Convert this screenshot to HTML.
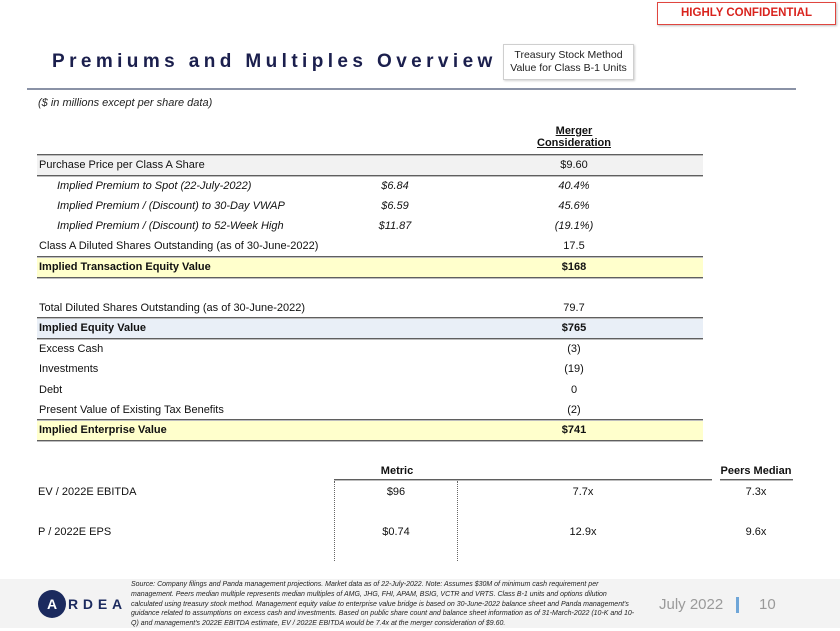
<!DOCTYPE html>
<html>
<head>
<meta charset="utf-8">
<style>
*{margin:0;padding:0;box-sizing:border-box;}
html,body{width:840px;height:631px;background:#fff;overflow:hidden;}
body{position:relative;font-family:"Liberation Sans",Arial,sans-serif;color:#111;}
.a{position:absolute;white-space:nowrap;}
.t{font-size:11px;line-height:14px;height:14px;}
.b{font-weight:bold;}
.i{font-style:italic;}
.c{text-align:center;}
.ln{position:absolute;height:2px;background:#5f5f5f;border-bottom:1px solid #bdbdbd;}
.bg{position:absolute;}
</style>
</head>
<body>

<!-- Highly confidential -->
<div class="a" style="left:657px;top:2px;width:179px;height:23px;border:1.5px solid #e0463f;box-shadow:1px 1px 2px rgba(0,0,0,0.25);"></div>
<div class="a b c" style="left:657px;top:6px;width:179px;font-size:11.5px;line-height:14px;color:#d9231d;">HIGHLY CONFIDENTIAL</div>

<!-- Title -->
<div class="a b" style="left:52px;top:51px;font-size:19px;line-height:22px;letter-spacing:4.4px;color:#1b1f4d;">Premiums and Multiples Overview</div>

<!-- Treasury box -->
<div class="a" style="left:503px;top:44px;width:131px;height:36px;border:1px solid #cfcfcf;box-shadow:1px 1px 2px rgba(0,0,0,0.18);background:#fff;"></div>
<div class="a c" style="left:503px;top:49px;width:131px;font-size:10.5px;line-height:13px;color:#222;">Treasury Stock Method<br>Value for Class B-1 Units</div>

<!-- Rule -->
<div class="a" style="left:27px;top:88px;width:769px;height:2px;background:#8a92a6;"></div>

<div class="a t i" style="left:38px;top:96px;color:#222;">($ in millions except per share data)</div>

<!-- Table header -->
<div class="a t b c" style="left:524px;top:124px;width:100px;text-decoration:underline;">Merger</div>
<div class="a t b c" style="left:514px;top:136px;width:120px;text-decoration:underline;">Consideration</div>

<!-- Backgrounds -->
<div class="bg" style="left:37px;top:156px;width:666px;height:20px;background:#f2f2f2;"></div>
<div class="bg" style="left:37px;top:258px;width:666px;height:20px;background:#ffffcc;"></div>
<div class="bg" style="left:37px;top:319px;width:666px;height:20px;background:#e9eff7;"></div>
<div class="bg" style="left:37px;top:421px;width:666px;height:20px;background:#ffffcc;"></div>

<!-- Lines -->
<div class="ln" style="left:37px;top:154px;width:666px;"></div>
<div class="ln" style="left:37px;top:175px;width:666px;"></div>
<div class="ln" style="left:37px;top:256px;width:666px;"></div>
<div class="ln" style="left:37px;top:277px;width:666px;"></div>
<div class="ln" style="left:37px;top:317px;width:666px;"></div>
<div class="ln" style="left:37px;top:338px;width:666px;"></div>
<div class="ln" style="left:37px;top:419px;width:666px;"></div>
<div class="ln" style="left:37px;top:440px;width:666px;"></div>

<!-- Rows -->
<div class="a t" style="left:39px;top:158px;">Purchase Price per Class A Share</div>
<div class="a t c" style="left:524px;top:158px;width:100px;">$9.60</div>

<div class="a t i" style="left:57px;top:179px;">Implied Premium to Spot (22-July-2022)</div>
<div class="a t i c" style="left:350px;top:179px;width:90px;">$6.84</div>
<div class="a t i c" style="left:524px;top:179px;width:100px;">40.4%</div>

<div class="a t i" style="left:57px;top:199px;">Implied Premium / (Discount) to 30-Day VWAP</div>
<div class="a t i c" style="left:350px;top:199px;width:90px;">$6.59</div>
<div class="a t i c" style="left:524px;top:199px;width:100px;">45.6%</div>

<div class="a t i" style="left:57px;top:219px;">Implied Premium / (Discount) to 52-Week High</div>
<div class="a t i c" style="left:350px;top:219px;width:90px;">$11.87</div>
<div class="a t i c" style="left:524px;top:219px;width:100px;">(19.1%)</div>

<div class="a t" style="left:39px;top:239px;">Class A Diluted Shares Outstanding (as of 30-June-2022)</div>
<div class="a t c" style="left:524px;top:239px;width:100px;">17.5</div>

<div class="a t b" style="left:39px;top:260px;">Implied Transaction Equity Value</div>
<div class="a t b c" style="left:524px;top:260px;width:100px;">$168</div>

<div class="a t" style="left:39px;top:301px;">Total Diluted Shares Outstanding (as of 30-June-2022)</div>
<div class="a t c" style="left:524px;top:301px;width:100px;">79.7</div>

<div class="a t b" style="left:39px;top:321px;">Implied Equity Value</div>
<div class="a t b c" style="left:524px;top:321px;width:100px;">$765</div>

<div class="a t" style="left:39px;top:342px;">Excess Cash</div>
<div class="a t c" style="left:524px;top:342px;width:100px;">(3)</div>

<div class="a t" style="left:39px;top:362px;">Investments</div>
<div class="a t c" style="left:524px;top:362px;width:100px;">(19)</div>

<div class="a t" style="left:39px;top:383px;">Debt</div>
<div class="a t c" style="left:524px;top:383px;width:100px;">0</div>

<div class="a t" style="left:39px;top:403px;">Present Value of Existing Tax Benefits</div>
<div class="a t c" style="left:524px;top:403px;width:100px;">(2)</div>

<div class="a t b" style="left:39px;top:423px;">Implied Enterprise Value</div>
<div class="a t b c" style="left:524px;top:423px;width:100px;">$741</div>

<!-- Metrics section -->
<div class="a t b c" style="left:347px;top:464px;width:100px;">Metric</div>
<div class="a t b c" style="left:706px;top:464px;width:100px;">Peers Median</div>
<div class="ln" style="left:334px;top:479px;width:378px;"></div>
<div class="ln" style="left:720px;top:479px;width:73px;"></div>
<div class="a" style="left:334px;top:481px;width:0;height:80px;border-left:1px dotted #666;"></div>
<div class="a" style="left:457px;top:481px;width:0;height:80px;border-left:1px dotted #666;"></div>

<div class="a t" style="left:38px;top:485px;">EV / 2022E EBITDA</div>
<div class="a t c" style="left:346px;top:485px;width:100px;">$96</div>
<div class="a t c" style="left:533px;top:485px;width:100px;">7.7x</div>
<div class="a t c" style="left:706px;top:485px;width:100px;">7.3x</div>

<div class="a t" style="left:38px;top:525px;">P / 2022E EPS</div>
<div class="a t c" style="left:346px;top:525px;width:100px;">$0.74</div>
<div class="a t c" style="left:533px;top:525px;width:100px;">12.9x</div>
<div class="a t c" style="left:706px;top:525px;width:100px;">9.6x</div>

<!-- Footer -->
<div class="bg" style="left:0;top:579px;width:840px;height:49px;background:#f3f3f3;"></div>
<div class="a" style="left:38px;top:590px;width:28px;height:28px;border-radius:50%;background:#1b2a5e;"></div>
<div class="a b c" style="left:38px;top:596px;width:28px;font-size:14px;line-height:16px;color:#fff;">A</div>
<div class="a b" style="left:68px;top:596px;font-size:14px;line-height:16px;letter-spacing:4.8px;color:#1b2a5e;">RDEA</div>

<div class="a i" style="left:131px;top:580px;font-size:7px;line-height:9.8px;color:#222;">Source: Company filings and Panda management projections. Market data as of 22-July-2022. Note: Assumes $30M of minimum cash requirement per<br>management. Peers median multiple represents median multiples of AMG, JHG, FHI, APAM, BSIG, VCTR and VRTS. Class B-1 units and options dilution<br>calculated using treasury stock method. Management equity value to enterprise value bridge is based on 30-June-2022 balance sheet and Panda management's<br>guidance related to assumptions on excess cash and investments. Based on public share count and balance sheet information as of 31-March-2022 (10-K and 10-<br>Q) and management's 2022E EBITDA estimate, EV / 2022E EBITDA would be 7.4x at the merger consideration of $9.60.</div>

<div class="a" style="left:659px;top:596px;font-size:15px;line-height:18px;color:#9a9a9a;">July 2022</div>
<div class="a" style="left:736px;top:597px;width:3px;height:16px;background:#6fa6d8;"></div>
<div class="a" style="left:759px;top:596px;font-size:15px;line-height:18px;color:#9a9a9a;">10</div>

</body>
</html>
